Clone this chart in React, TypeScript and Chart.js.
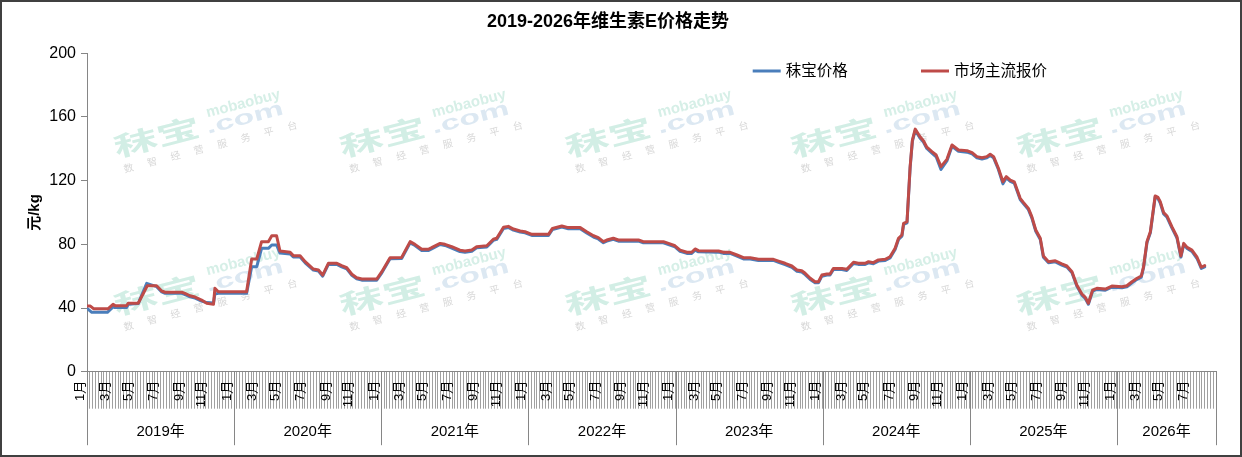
import { useEffect, useRef } from 'react';
import { Chart, registerables } from 'chart.js';

Chart.register(...registerables);

const FAMILY = '"Liberation Sans", "Noto Sans CJK SC", sans-serif';
const CJK = '"Noto Sans CJK SC", "Liberation Sans", sans-serif';

const chartTitle = '2019-2026年维生素E价格走势';
const yAxisTitle = '元/kg';
const seriesNames = ['秣宝价格', '市场主流报价'];

const yearLabels = ['2019年', '2020年', '2021年', '2022年', '2023年', '2024年', '2025年', '2026年'];
const weeksPerYear = [52, 52, 52, 52, 52, 52, 52, 35];
const monthLabels = ['1月', '3月', '5月', '7月', '9月', '11月'];
const monthStartWeek = [0, 9, 17, 26, 35, 43];

const yTickValues = [0, 40, 80, 120, 160, 200];

// [week index, price]
const mobaoPoints: [number, number][] = [
  [0, 39.8], [1.7, 37.3], [7.2, 37.3], [9.3, 40.8], [9.9, 40.3], [14, 40.3], [14.6, 42.3], [18.1, 42.8],
  [21.1, 55.5], [24.6, 53.4], [26.4, 50.1], [27.6, 49.2], [33.5, 49.2], [34.6, 48.5], [36.4, 47], [38.2, 46.2],
  [40.5, 44.4], [42.3, 43.4], [44.7, 43.2], [45.2, 48.8], [46.4, 49.2], [56.4, 49.2], [58.2, 66], [60, 66],
  [61.7, 77.5], [64.1, 77.5], [65.3, 79.6], [67, 79.6], [68.2, 74.5], [71.8, 74], [72.9, 72.1], [75.3, 72.1],
  [77.1, 68.4], [80, 63.8], [81.8, 63.2], [83.3, 60], [85.3, 67.4], [88.3, 67.4], [90, 65.9], [91.8, 64.6],
  [93.6, 60.5], [95.3, 58.3], [97.1, 57.5], [102.4, 57.5], [104.2, 62.1], [107.1, 70.9], [111.2, 71.1],
  [114.2, 80.9], [115.9, 79.3], [118.3, 76.1], [120.6, 76.1], [121.8, 77.1], [124.8, 79.9], [126.5, 79.3],
  [128.9, 77.7], [131.8, 75.5], [133.6, 75], [136, 75.7], [137.7, 77.8], [141.3, 78.4], [143.6, 82.5],
  [144.8, 83.1], [147.2, 90], [148.9, 90.6], [150.7, 88.9], [153.1, 87.7], [154.8, 87.2], [157.2, 85.6],
  [163.1, 85.6], [164.5, 89.3], [167.8, 90.8], [170.1, 89.8], [174.3, 89.8], [176.6, 87.2], [179, 84.6],
  [180.7, 83.4], [182.5, 81], [183.7, 82], [186, 83.1], [187.8, 82], [194.9, 82], [196.6, 81], [203.7, 81],
  [205.5, 79.9], [207.8, 78.4], [209.6, 75.6], [212, 74.3], [213.7, 74.3], [214.9, 76.4], [216.1, 75.3],
  [223.2, 75.1], [224.9, 74.3], [227.3, 74.3], [229.7, 72.6], [232, 70.8], [234.4, 70.8], [237.3, 69.9],
  [242.6, 69.9], [244.4, 68.7], [246.7, 67.3], [249.1, 65.6], [250.9, 63.1], [252.6, 62.6], [253.8, 61],
  [255.6, 57.9], [257.3, 55.8], [258.5, 55.8], [259.7, 60], [261.5, 60.7], [262.6, 60.7], [263.8, 64.2],
  [266.8, 64.2], [268.5, 63.6], [270.9, 68], [272.6, 67.4], [275, 67.4], [276.2, 68.4], [277.9, 67.8],
  [279.7, 69.5], [282.1, 69.9], [283.8, 71.5], [285.6, 76.8], [286.8, 83.1], [288, 85.2], [288.6, 92.5],
  [289.8, 93.5], [290.9, 128], [291.7, 144.7], [292.7, 151.6], [294.4, 146.8], [295.6, 144.3], [296.8, 140.2],
  [298.6, 137.3], [300.1, 135], [301.8, 127], [303.9, 132.4], [305.7, 141.6], [308, 138.4], [311, 137.9],
  [312.8, 136.8], [314.5, 134.3], [316.3, 133.6], [318, 134.3], [319.2, 135.8], [320.4, 134.3], [322.1, 127],
  [323.7, 118], [324.9, 121.7], [326.3, 119.6], [327.7, 118.5], [329.8, 108.1], [331, 105.4], [332.7, 101.8],
  [333.9, 96.6], [335.3, 88.2], [336.9, 83], [338, 71.9], [339.8, 68.4], [342.2, 69], [344.5, 67],
  [346.3, 65.7], [348.1, 62.1], [349.8, 53.8], [351.6, 48.1], [352.8, 46], [353.9, 42.4], [355.4, 50.6],
  [356.9, 51.7], [359.9, 51.2], [362.2, 53.1], [365.8, 52.7], [367.5, 53.3], [369.3, 55.8], [371.1, 58],
  [372.6, 59.4], [373.4, 65.3], [374.6, 81], [375.8, 87.2], [377.5, 109.7], [378.5, 108.8], [379.3, 106],
  [380.5, 99.1], [381.7, 97], [383.4, 90.3], [385.2, 84], [385.8, 78.8], [386.6, 72], [387.6, 79.9],
  [388.8, 77.4], [390.5, 75.6], [392.3, 71.1], [393.8, 64.9], [395, 65.9],
];

const marketPoints: [number, number][] = [
  [0, 41.2], [1.2, 41.2], [2.3, 39.6], [7.5, 39.6], [9.2, 42.3], [9.9, 41.5], [14, 41.5], [14.6, 43],
  [18.1, 43], [21.3, 54], [24.6, 54], [26.4, 50.7], [27.6, 49.9], [33.5, 49.9], [34.6, 49.2], [36.4, 47.7],
  [38.2, 46.9], [40.5, 45], [42.3, 43], [44.7, 42.3], [45.2, 52.4], [46.4, 50.2], [56.4, 50.2], [58.2, 70.8],
  [60, 70.8], [61.7, 81.7], [64.1, 81.7], [65.3, 85.4], [67, 85.4], [68.2, 75.8], [71.8, 75], [72.9, 72.9],
  [75.3, 72.9], [77.1, 69.1], [80, 64.5], [81.8, 63.9], [83.3, 60.7], [85.3, 68.1], [88.3, 68.1], [90, 66.6],
  [91.8, 65.3], [93.6, 61.2], [95.3, 59], [97.1, 58.2], [102.4, 58.2], [104.2, 62.8], [107.1, 71.6],
  [111.2, 71.8], [114.2, 81.7], [115.9, 80], [118.3, 76.9], [120.6, 76.9], [121.8, 77.9], [124.8, 80.6],
  [126.5, 80], [128.9, 78.5], [131.8, 76.3], [133.6, 75.8], [136, 76.4], [137.7, 78.5], [141.3, 79.1],
  [143.6, 83.2], [144.8, 83.8], [147.2, 90.7], [148.9, 91.3], [150.7, 89.6], [153.1, 88.4], [154.8, 87.9],
  [157.2, 86.3], [163.1, 86.3], [164.5, 90], [167.8, 91.5], [170.1, 90.5], [174.3, 90.5], [176.6, 87.9],
  [179, 85.4], [180.7, 84.2], [182.5, 81.7], [183.7, 82.7], [186, 83.8], [187.8, 82.7], [194.9, 82.7],
  [196.6, 81.7], [203.7, 81.7], [205.5, 80.6], [207.8, 79.1], [209.6, 76.4], [212, 75], [213.7, 75],
  [214.9, 77.1], [216.1, 76], [223.2, 75.8], [224.9, 75], [227.3, 75], [229.7, 73.3], [232, 71.6],
  [234.4, 71.6], [237.3, 70.6], [242.6, 70.6], [244.4, 69.5], [246.7, 68.1], [249.1, 66.4], [250.9, 63.9],
  [252.6, 63.4], [253.8, 61.8], [255.6, 58.7], [257.3, 56.5], [258.5, 56.5], [259.7, 60.7], [261.5, 61.4],
  [262.6, 61.4], [263.8, 64.9], [266.8, 64.9], [268.5, 64.3], [270.9, 68.7], [272.6, 68.1], [275, 68.1],
  [276.2, 69.1], [277.9, 68.5], [279.7, 70.2], [282.1, 70.6], [283.8, 72.2], [285.6, 77.5], [286.8, 83.8],
  [288, 85.9], [288.6, 93.2], [289.8, 94.2], [290.9, 128.8], [291.7, 145.5], [292.7, 152.4], [294.4, 147.6],
  [295.6, 145.1], [296.8, 141], [298.6, 138.2], [300.1, 136.1], [301.8, 128.8], [303.9, 133.4], [305.7, 142.4],
  [308, 139.3], [311, 138.8], [312.8, 137.6], [314.5, 135.1], [316.3, 134.4], [318, 135.1], [319.2, 136.6],
  [320.4, 135.1], [322.1, 127.8], [323.7, 119.3], [324.9, 122.5], [326.3, 120.4], [327.7, 119.3],
  [329.8, 108.9], [331, 106.2], [332.7, 102.6], [333.9, 97.4], [335.3, 89], [336.9, 83.8], [338, 72.7],
  [339.8, 69.1], [342.2, 69.7], [344.5, 67.7], [346.3, 66.4], [348.1, 62.8], [349.8, 54.5], [351.6, 48.8],
  [352.8, 46.7], [353.9, 43], [355.4, 51.3], [356.9, 52.4], [359.9, 51.9], [362.2, 53.8], [365.8, 53.4],
  [367.5, 54], [369.3, 56.5], [371.1, 58.7], [372.6, 60.1], [373.4, 66], [374.6, 81.7], [375.8, 87.9],
  [377.5, 110.4], [378.5, 109.5], [379.3, 106.8], [380.5, 99.9], [381.7, 97.8], [383.4, 91.1], [385.2, 84.8],
  [385.8, 79.6], [386.6, 72.7], [387.6, 80.6], [388.8, 78.1], [390.5, 76.4], [392.3, 71.9], [393.8, 65.6],
  [395, 66.6],
];

// derived axis helpers
const yearStart: number[] = [];
weeksPerYear.reduce((acc, n) => { yearStart.push(acc); return acc + n; }, 0);
const totalWeeks = weeksPerYear.reduce((a, b) => a + b, 0);
const monthLabelAt = new Map<number, string>();
yearStart.forEach((s, yi) => {
  monthStartWeek.forEach((w, mi) => {
    if (w < weeksPerYear[yi]) monthLabelAt.set(s + w, monthLabels[mi]);
  });
});

const BLUE = '#4a7ebb';
const RED = '#be4b48';
const AXIS = '#868686';

const watermarkPlugin = {
  id: 'watermark',
  beforeDatasetsDraw(chart: any) {
    const { ctx, chartArea } = chart;
    const ang = (-14.5 * Math.PI) / 180;
    const small = ['数', '智', '经', '营', '服', '务', '平', '台'];
    for (let r = 0; r < 2; r++) {
      for (let c = 0; c < 5; c++) {
        const ax = chartArea.left + 30.5 + c * 225.7;
        const ay = chartArea.top + 107 + r * 158;
        ctx.save();
        ctx.translate(ax, ay);
        ctx.rotate(ang);
        ctx.textBaseline = 'alphabetic';
        ctx.textAlign = 'left';
        ctx.save();
        ctx.scale(1, 0.6);
        ctx.font = `bold 44px ${CJK}`;
        ctx.fillStyle = 'rgb(210,238,229)';
        ctx.fillText('秣宝', 0, -3 / 0.6);
        ctx.font = `bold 34px ${FAMILY}`;
        ctx.fillStyle = 'rgb(220,232,242)';
        ctx.fillText('.com', 94, -3 / 0.6);
        ctx.restore();
        ctx.font = `bold 15px ${FAMILY}`;
        ctx.fillStyle = 'rgb(214,239,231)';
        ctx.fillText('mobaobuy', 98, -19);
        ctx.font = `10px ${CJK}`;
        ctx.fillStyle = 'rgb(216,216,216)';
        ctx.textAlign = 'center';
        ctx.textBaseline = 'middle';
        small.forEach((ch, k) => ctx.fillText(ch, 9 + k * 24.1, 10));
        ctx.restore();
      }
    }
  },
};

const decorPlugin = {
  id: 'decor',
  afterDraw(chart: any) {
    const { ctx, chartArea } = chart;
    const xs = chart.scales.x;
    ctx.save();
    // year separators and labels
    ctx.strokeStyle = AXIS;
    ctx.lineWidth = 1;
    const bounds = [...yearStart, totalWeeks];
    bounds.forEach((w) => {
      const px = Math.round(xs.getPixelForValue(w)) + 0.5;
      ctx.beginPath();
      ctx.moveTo(px, chartArea.bottom);
      ctx.lineTo(px, chartArea.bottom + 73.5);
      ctx.stroke();
    });
    ctx.fillStyle = '#000';
    ctx.font = `15px ${FAMILY}`;
    ctx.textAlign = 'center';
    ctx.textBaseline = 'middle';
    yearLabels.forEach((lab, i) => {
      const a = xs.getPixelForValue(yearStart[i]);
      const b = xs.getPixelForValue(yearStart[i] + weeksPerYear[i]);
      ctx.fillText(lab, (a + b) / 2, chartArea.bottom + 60);
    });
    // legend
    const items = [
      { x: 752.7, ds: chart.data.datasets[0] },
      { x: 921, ds: chart.data.datasets[1] },
    ];
    ctx.font = `15.5px ${FAMILY}`;
    ctx.textAlign = 'left';
    items.forEach(({ x, ds }) => {
      ctx.strokeStyle = ds.borderColor;
      ctx.lineWidth = 3;
      ctx.beginPath();
      ctx.moveTo(x, 71);
      ctx.lineTo(x + 28, 71);
      ctx.stroke();
      ctx.fillStyle = '#000';
      ctx.fillText(ds.label, x + 33, 71.5);
    });
    // outer border
    ctx.strokeStyle = '#404040';
    ctx.lineWidth = 2;
    ctx.strokeRect(1, 1, chart.width - 2, chart.height - 2);
    ctx.restore();
  },
};

export default function App() {
  const ref = useRef<HTMLCanvasElement>(null);
  useEffect(() => {
    document.body.style.margin = '0';
    Chart.defaults.font.family = FAMILY;
    const chart = new Chart(ref.current!, {
      type: 'line',
      data: {
        datasets: [
          {
            label: seriesNames[0],
            data: mobaoPoints.map(([x, y]) => ({ x, y })),
            borderColor: BLUE,
            backgroundColor: BLUE,
            borderWidth: 3,
            pointRadius: 0,
            tension: 0,
            borderJoinStyle: 'round',
            borderCapStyle: 'round',
            order: 1,
          },
          {
            label: seriesNames[1],
            data: marketPoints.map(([x, y]) => ({ x, y })),
            borderColor: RED,
            backgroundColor: RED,
            borderWidth: 3,
            pointRadius: 0,
            tension: 0,
            borderJoinStyle: 'round',
            borderCapStyle: 'round',
            order: 0,
          },
        ],
      },
      options: {
        animation: false,
        responsive: false,
        layout: { padding: { left: 0, right: 26, top: 0, bottom: 0 } },
        plugins: {
          legend: { display: false },
          tooltip: { enabled: false },
          title: {
            display: true,
            text: chartTitle,
            color: '#000',
            font: { size: 18, weight: 'bold', family: FAMILY },
            padding: { top: 11, bottom: 20.7 },
          },
        },
        scales: {
          x: {
            type: 'linear',
            min: 0,
            max: totalWeeks,
            afterBuildTicks: (s: any) => {
              s.ticks = Array.from({ length: totalWeeks + 1 }, (_, i) => ({ value: i }));
            },
            afterFit: (s: any) => {
              s.height = 457 - 371.7;
            },
            ticks: {
              autoSkip: false,
              minRotation: 90,
              maxRotation: 90,
              padding: -28,
              labelOffset: -7,
              color: '#000',
              font: { size: 13, family: FAMILY },
              callback: (v: any) => monthLabelAt.get(Number(v)) ?? '',
            },
            grid: { drawOnChartArea: false, tickLength: 37, color: '#a0a0a0', lineWidth: 1 },
            border: { color: AXIS, width: 1 },
          },
          y: {
            min: 0,
            max: 200,
            afterBuildTicks: (s: any) => {
              s.ticks = yTickValues.map((value) => ({ value }));
            },
            afterFit: (s: any) => {
              s.width = 87;
            },
            ticks: {
              padding: 5,
              color: '#000',
              font: { size: 16, family: FAMILY },
            },
            grid: { drawOnChartArea: false, tickLength: 6, color: AXIS },
            border: { color: AXIS, width: 1 },
            title: {
              display: true,
              text: yAxisTitle,
              color: '#000',
              font: { size: 15, weight: 'bold', family: FAMILY },
              padding: { top: 26, bottom: 0 },
            },
          },
        },
      },
      plugins: [watermarkPlugin, decorPlugin],
    } as any);
    return () => chart.destroy();
  }, []);
  return (
    <canvas
      ref={ref}
      width={1242}
      height={457}
      style={{ display: 'block', width: 1242, height: 457 }}
    />
  );
}
